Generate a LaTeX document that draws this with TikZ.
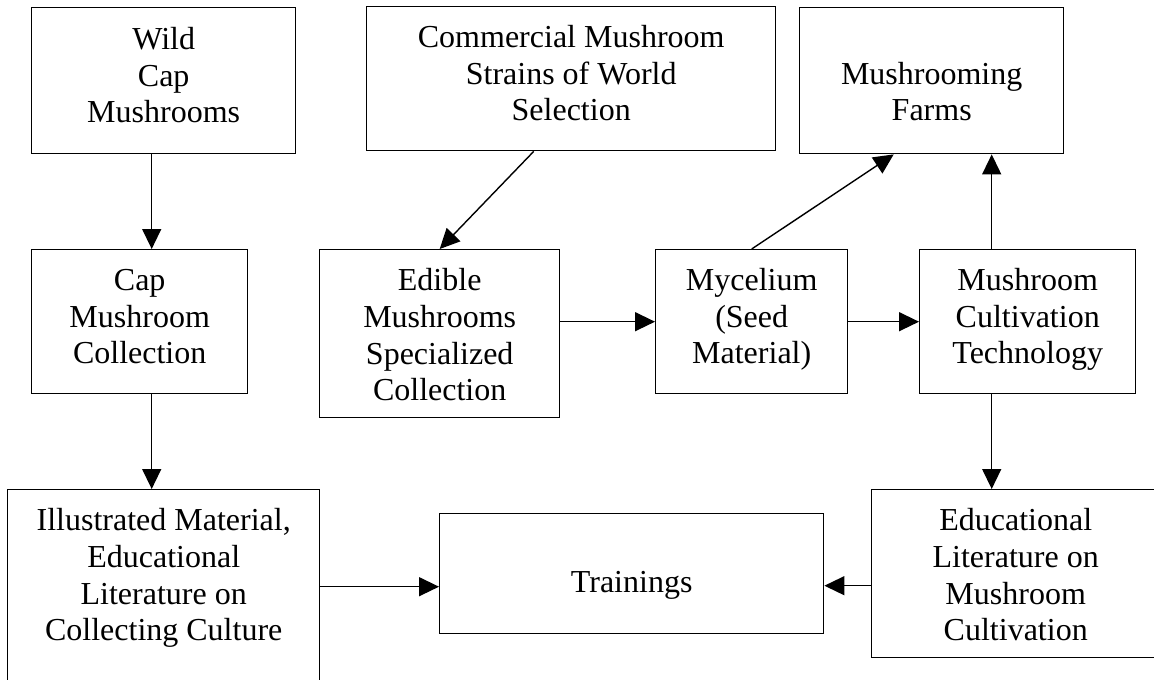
\documentclass[tikz,border=0pt]{standalone}
\usepackage{fontspec}
\setmainfont{Liberation Serif}
\usetikzlibrary{arrows.meta}
\begin{document}
\begin{tikzpicture}[x=0.5pt,y=-0.5pt,
  box/.style={draw=black, line width=0.7pt, fill=white, inner sep=0pt, anchor=north west,
    align=center, font=\fontsize{16}{18.3}\selectfont},
  arr/.style={line width=0.7pt, -{Triangle[length=10pt,width=9.5pt]}}]
\useasboundingbox (0,0) rectangle (1154,679);
\fill[white] (0,0) rectangle (1154,679);
% boxes (text height = offset of the last baseline from the top)
\node[box, minimum width=132pt, text height=57.5pt, text depth=15.5pt] (wild) at (31,7) {Wild\\Cap\\Mushrooms};
\node[box, minimum width=204.5pt, text height=57pt, text depth=15pt] (comm) at (366,6) {Commercial Mushroom\\Strains of World\\Selection};
\node[box, minimum width=132pt, text height=56.5pt, text depth=16.5pt] (farms) at (799,7) {Mushrooming\\Farms};
\node[box, minimum width=108pt, text height=57pt, text depth=15pt] (capcoll) at (31,249) {Cap\\Mushroom\\Collection};
\node[box, minimum width=120pt, text height=75.5pt, text depth=8.5pt] (edible) at (319,249) {Edible\\Mushrooms\\Specialized\\Collection};
\node[box, minimum width=96pt, text height=57pt, text depth=15pt] (myc) at (655,249) {Mycelium\\(Seed\\Material)};
\node[box, minimum width=108pt, text height=57pt, text depth=15pt] (cult) at (919,249) {Mushroom\\Cultivation\\Technology};
\node[box, minimum width=156pt, text height=75.5pt, text depth=34.5pt] (illus) at (7,489) {Illustrated Material,\\Educational\\Literature on\\Collecting Culture};
\node[box, minimum width=192pt, text height=39.5pt, text depth=20.5pt] (train) at (439,513) {Trainings};
\node[box, minimum width=144pt, text height=75.5pt, text depth=8.5pt] (edu) at (871,489) {Educational\\Literature on\\Mushroom\\Cultivation};
% helper coordinates
\coordinate (wa) at ([xshift=-6pt]wild.south);
\coordinate (ca) at ([xshift=6pt]capcoll.south);
\coordinate (ua) at ([xshift=-18pt]cult.north);
\coordinate (ub) at ([xshift=-18pt]cult.south);
\coordinate (t1) at ([yshift=-6.5pt]train.west);
\coordinate (t2) at ([yshift=-6pt]train.east);
% connectors
\draw[arr] (wa) -- (wa |- capcoll.north);
\draw[arr] (ca) -- (ca |- illus.north);
\draw[arr] ([xshift=-18.75pt]comm.south) -- (edible.north);
\draw[arr] (edible.east |- myc.west) -- (myc.west);
\draw[arr] (myc.east) -- (cult.west);
\draw[arr] (myc.north) -- ([xshift=-19pt]farms.south);
\draw[arr] (ua) -- (ua |- farms.south);
\draw[arr] (ub) -- (ub |- edu.north);
\draw[arr] (t1 -| illus.east) -- (t1);
\draw[arr] (t2 -| edu.west) -- (t2);
\end{tikzpicture}
\end{document}
